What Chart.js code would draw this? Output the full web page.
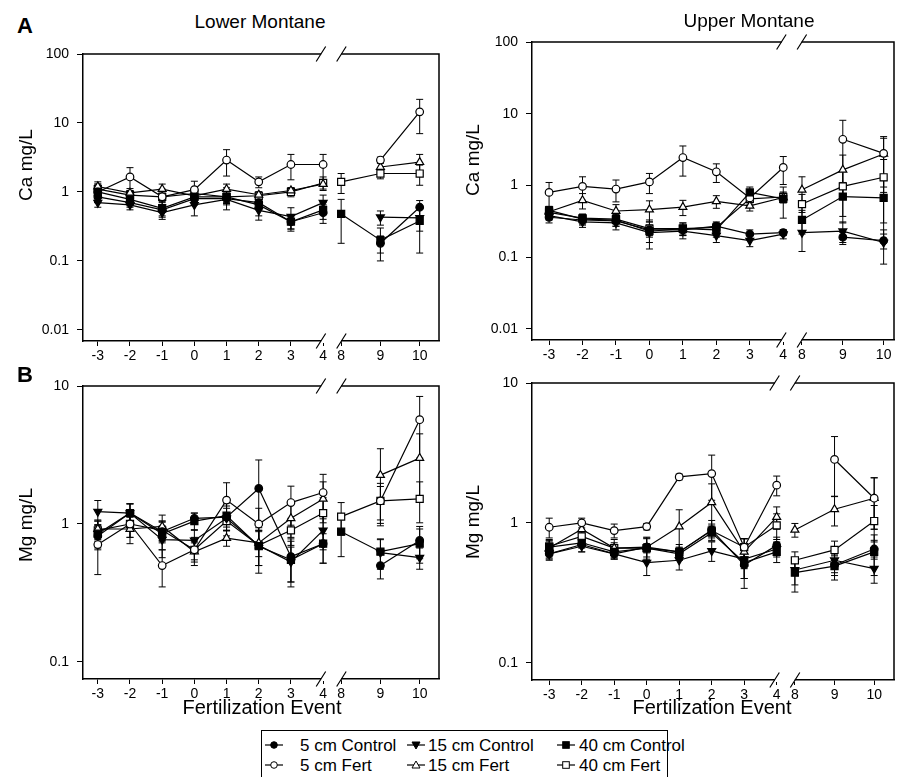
<!DOCTYPE html>
<html>
<head>
<meta charset="utf-8">
<script src="https://cdn.jsdelivr.net/npm/chart.js@4.4.0/dist/chart.umd.min.js"></script>
<style>
body { margin: 0; width: 897px; height: 777px; background: #fff; position: relative; overflow: hidden; font-family: "Liberation Sans", Arial, sans-serif; color: #000; }
canvas { position: absolute; }
.t { position: absolute; white-space: nowrap; line-height: 1; transform: translate(-50%, -50%); }
.rot { transform: translate(-50%, -50%) rotate(-90deg); }
.lg { position: absolute; white-space: nowrap; line-height: 1; font-size: 17px; transform: translateY(-50%); }
.sym { position: absolute; transform: translateY(-50%); line-height: 0; }
</style>
</head>
<body>
<div class="t" style="left:25px;top:26px;font-size:22px;font-weight:bold">A</div>
<div class="t" style="left:25px;top:375px;font-size:22px;font-weight:bold">B</div>
<div class="t" style="left:260px;top:21px;font-size:19px">Lower Montane</div>
<div class="t" style="left:749px;top:20px;font-size:19px">Upper Montane</div>
<div class="t rot" style="left:25px;top:165px;font-size:19px">Ca mg/L</div>
<div class="t rot" style="left:472px;top:160px;font-size:19px">Ca mg/L</div>
<div class="t rot" style="left:25px;top:525px;font-size:19px">Mg mg/L</div>
<div class="t rot" style="left:472px;top:522px;font-size:19px">Mg mg/L</div>
<div class="t" style="left:262px;top:707px;font-size:20px">Fertilization Event</div>
<div class="t" style="left:712px;top:707px;font-size:20px">Fertilization Event</div>
<div id="legend" style="position:absolute;left:261px;top:730px;width:407px;height:60px;border:1px solid #000;box-sizing:border-box"></div>

<script>
var events = [-3, -2, -1, 0, 1, 2, 3, 4, 8, 9, 10]
var seriesNames = ['5 cm Control', '15 cm Control', '40 cm Control', '5 cm Fert', '15 cm Fert', '40 cm Fert']

// means (mg/L), one row per series in seriesNames order; null = not sampled
var caLowerMeans = [
    [0.85, 0.70, 0.55, 0.80, 0.80, 0.70, 0.37, 0.50, null, 0.18, 0.60],
    [0.70, 0.65, 0.50, 0.65, 0.78, 0.54, 0.44, 0.70, null, 0.43, 0.42],
    [1.00, 0.78, 0.58, 0.85, 0.85, 0.65, 0.37, 0.55, 0.48, 0.20, 0.38],
    [1.00, 1.65, 0.85, 1.08, 2.90, 1.40, 2.50, 2.50, null, 2.90, 14.5],
    [1.20, 0.97, 1.10, 0.88, 1.10, 0.91, 1.05, 1.30, null, 2.30, 2.70],
    [1.10, 0.90, 0.85, 0.95, 0.85, 0.88, 1.00, 1.35, 1.40, 1.85, 1.85]
]
var caLowerErrs = [
    [0.15, 0.10, 0.10, 0.15, 0.15, 0.15, 0.08, 0.15, null, 0.05, 0.15],
    [0.10, 0.10, 0.10, 0.20, 0.10, 0.15, 0.15, 0.20, null, 0.10, 0.15],
    [0.20, 0.15, 0.15, 0.20, 0.30, 0.20, 0.10, 0.15, 0.30, 0.10, 0.25],
    [0.30, 0.60, 0.25, 0.35, 1.20, 0.25, 1.00, 1.00, null, 0.30, 7.50],
    [0.20, 0.15, 0.20, 0.15, 0.20, 0.10, 0.10, 0.20, null, 0.40, 0.80],
    [0.20, 0.15, 0.15, 0.15, 0.15, 0.10, 0.15, 0.30, 0.45, 0.30, 0.60]
]
var caUpperMeans = [
    [0.36, 0.33, 0.32, 0.24, 0.24, 0.27, 0.21, 0.22, null, 0.19, 0.17],
    [0.38, 0.31, 0.30, 0.22, 0.23, 0.20, 0.17, 0.21, 0.22, 0.23, 0.16],
    [0.45, 0.34, 0.33, 0.23, 0.25, 0.24, 0.80, 0.65, 0.33, 0.70, 0.67],
    [0.80, 0.97, 0.89, 1.12, 2.45, 1.55, 0.67, 1.78, null, 4.40, 2.80],
    [0.43, 0.62, 0.44, 0.46, 0.50, 0.60, 0.52, 0.68, 0.87, 1.65, 2.75],
    [0.42, 0.35, 0.34, 0.25, 0.25, 0.26, 0.65, 0.69, 0.55, 0.97, 1.30]
]
var caUpperErrs = [
    [0.06, 0.05, 0.05, 0.04, 0.03, 0.03, 0.03, 0.02, null, 0.03, 0.04],
    [0.05, 0.05, 0.06, 0.06, 0.05, 0.04, 0.03, 0.03, 0.10, 0.08, 0.08],
    [0.06, 0.05, 0.06, 0.10, 0.05, 0.05, 0.15, 0.30, 0.12, 0.40, 0.50],
    [0.30, 0.35, 0.30, 0.35, 1.10, 0.45, 0.15, 0.75, null, 3.70, 2.00],
    [0.08, 0.15, 0.10, 0.15, 0.12, 0.12, 0.08, 0.10, 0.45, 1.00, 1.80],
    [0.06, 0.05, 0.05, 0.06, 0.05, 0.05, 0.10, 0.12, 0.20, 0.60, 1.00]
]
var mgLowerMeans = [
    [0.82, 1.20, 0.88, 1.10, 1.12, 1.81, 0.58, 0.72, null, 0.50, 0.76],
    [1.23, 1.20, 0.77, 0.76, 1.10, 0.70, 0.53, 0.90, null, 0.62, 0.57],
    [0.85, 1.20, 0.85, 1.05, 1.15, 0.69, 0.55, 0.72, 0.88, 0.63, 0.72],
    [0.71, 1.00, 0.50, 0.65, 1.49, 1.00, 1.43, 1.69, null, 1.47, 5.70],
    [0.92, 0.92, 0.96, 0.63, 0.79, 0.73, 1.10, 1.52, null, 2.26, 3.00],
    [0.90, 1.00, 0.90, 0.65, 1.05, 0.70, 0.90, 1.20, 1.13, 1.47, 1.52]
]
var mgLowerErrs = [
    [0.15, 0.20, 0.15, 0.10, 0.30, 1.10, 0.20, 0.20, null, 0.10, 0.20],
    [0.25, 0.20, 0.20, 0.15, 0.20, 0.20, 0.15, 0.25, null, 0.15, 0.10],
    [0.20, 0.20, 0.20, 0.15, 0.20, 0.25, 0.20, 0.20, 0.30, 0.15, 0.20],
    [0.28, 0.20, 0.15, 0.15, 0.50, 0.30, 0.45, 0.60, null, 0.50, 2.70],
    [0.15, 0.20, 0.20, 0.10, 0.10, 0.15, 0.30, 0.50, null, 1.25, 1.50],
    [0.15, 0.20, 0.15, 0.10, 0.15, 0.20, 0.20, 0.35, 0.30, 0.40, 0.50]
]
var mgUpperMeans = [
    [0.60, 0.70, 0.60, 0.67, 0.62, 0.89, 0.50, 0.69, null, 0.50, 0.65],
    [0.60, 0.68, 0.60, 0.52, 0.54, 0.63, 0.55, 0.65, 0.46, 0.54, 0.47],
    [0.67, 0.72, 0.62, 0.66, 0.60, 0.85, 0.52, 0.62, 0.44, 0.49, 0.62],
    [0.93, 1.00, 0.88, 0.94, 2.13, 2.25, 0.67, 1.86, null, 2.84, 1.50],
    [0.66, 0.90, 0.66, 0.67, 0.94, 1.40, 0.62, 1.10, 0.89, 1.25, 1.50],
    [0.68, 0.80, 0.66, 0.66, 0.62, 0.88, 0.67, 0.96, 0.54, 0.64, 1.03]
]
var mgUpperErrs = [
    [0.06, 0.08, 0.05, 0.10, 0.08, 0.15, 0.10, 0.10, null, 0.08, 0.10],
    [0.05, 0.06, 0.05, 0.10, 0.08, 0.10, 0.15, 0.08, 0.10, 0.10, 0.10],
    [0.08, 0.06, 0.05, 0.12, 0.06, 0.10, 0.18, 0.10, 0.12, 0.10, 0.20],
    [0.15, 0.08, 0.10, 0.05, 0.10, 0.80, 0.10, 0.30, null, 1.30, 0.60],
    [0.10, 0.10, 0.10, 0.12, 0.30, 0.50, 0.15, 0.20, 0.10, 0.30, 0.60],
    [0.06, 0.06, 0.06, 0.05, 0.05, 0.10, 0.10, 0.20, 0.08, 0.10, 0.30]
]

// x axis has a break between event 4 and event 8
var breakGap = 0.56
var postStretch = 1.22
var breakPos = 4.25
function xPos(e) {
    return e <= 4 ? e : 4 + breakGap + (e - 8) * postStretch
}

var markers = [
    { style: 'circle', fill: '#000', rot: 0, r: 3.8 },
    { style: 'triangle', fill: '#000', rot: 180, r: 4.6 },
    { style: 'rect', fill: '#000', rot: 0, r: 5 },
    { style: 'circle', fill: '#fff', rot: 0, r: 3.8 },
    { style: 'triangle', fill: '#fff', rot: 0, r: 4.6 },
    { style: 'rect', fill: '#fff', rot: 0, r: 5 }
]

var panels = [
    { means: caLowerMeans, errs: caLowerErrs, l: 83, t: 54, r: 439, b: 341, yMin: 0.0069, yMax: 100, yTicks: [0.01, 0.1, 1, 10, 100], xMin: -3.46, xMax: 7.6 },
    { means: caUpperMeans, errs: caUpperErrs, l: 532, t: 42, r: 894, b: 340, yMin: 0.007, yMax: 100, yTicks: [0.01, 0.1, 1, 10, 100], xMin: -3.51, xMax: 7.31 },
    { means: mgLowerMeans, errs: mgLowerErrs, l: 83, t: 386, r: 439, b: 679, yMin: 0.0753, yMax: 10, yTicks: [0.1, 1, 10], xMin: -3.46, xMax: 7.6 },
    { means: mgUpperMeans, errs: mgUpperErrs, l: 532, t: 383, r: 894, b: 680, yMin: 0.0752, yMax: 10, yTicks: [0.1, 1, 10], xMin: -3.53, xMax: 7.61 }
]

// vertical error bars with caps, drawn under the markers
var errorBars = {
    id: 'errorBars',
    beforeDatasetsDraw: function (chart) {
        var ctx = chart.ctx
        var ys = chart.scales.y
        ctx.save()
        ctx.strokeStyle = '#000'
        ctx.lineWidth = 1
        chart.data.datasets.forEach(function (ds, i) {
            var meta = chart.getDatasetMeta(i)
            meta.data.forEach(function (pt, k) {
                var d = ds.data[k]
                var e = ds.errs[k]
                if (d.y == null || e == null) return
                var top = ys.getPixelForValue(d.y + e)
                var bot = ys.getPixelForValue(Math.max(d.y - e, ys.min))
                ctx.beginPath()
                ctx.moveTo(pt.x, top)
                ctx.lineTo(pt.x, bot)
                ctx.moveTo(pt.x - 3.5, top)
                ctx.lineTo(pt.x + 3.5, top)
                ctx.moveTo(pt.x - 3.5, bot)
                ctx.lineTo(pt.x + 3.5, bot)
                ctx.stroke()
            })
        })
        ctx.restore()
    }
}

// top/right frame lines and the // axis break marks
var frame = {
    id: 'frame',
    afterDraw: function (chart) {
        var a = chart.chartArea
        var ctx = chart.ctx
        var bx = chart.scales.x.getPixelForValue(breakPos)
        ctx.save()
        ctx.strokeStyle = '#000'
        ctx.lineWidth = 1.5
        ctx.beginPath()
        ctx.moveTo(a.left, a.top)
        ctx.lineTo(a.right, a.top)
        ctx.lineTo(a.right, a.bottom)
        ctx.stroke()
        var edges = [a.top, a.bottom]
        edges.forEach(function (y) {
            ctx.fillStyle = '#fff'
            ctx.fillRect(bx - 10, y - 2, 20, 4)
            ctx.beginPath()
            ctx.moveTo(bx - 15, y + 7.5)
            ctx.lineTo(bx - 5.5, y - 7.5)
            ctx.moveTo(bx + 5.5, y + 7.5)
            ctx.lineTo(bx + 15, y - 7.5)
            ctx.lineWidth = 1.2
            ctx.stroke()
        })
        ctx.restore()
    }
}

var font = { family: '"Liberation Sans", Arial, sans-serif', size: 14 }
var padL = 70, padT = 14, padR = 8, padB = 30

panels.forEach(function (p) {
    var cv = document.createElement('canvas')
    cv.width = p.r - p.l + padL + padR
    cv.height = p.b - p.t + padT + padB
    cv.style.left = (p.l - padL) + 'px'
    cv.style.top = (p.t - padT) + 'px'
    document.body.insertBefore(cv, document.body.firstChild)

    var datasets = seriesNames.map(function (name, i) {
        var pts = []
        var errs = []
        events.forEach(function (e, k) {
            if (e === 8) {
                pts.push({ x: breakPos, y: null })
                errs.push(null)
            }
            pts.push({ x: xPos(e), y: p.means[i][k] })
            errs.push(p.errs[i][k])
        })
        var m = markers[i]
        return {
            label: name,
            data: pts,
            errs: errs,
            borderColor: '#000',
            borderWidth: 1.2,
            backgroundColor: m.fill,
            pointStyle: m.style,
            pointRotation: m.rot,
            pointRadius: m.r,
            pointBorderWidth: 1.2,
            pointBackgroundColor: m.fill,
            pointBorderColor: '#000',
            spanGaps: false,
            tension: 0
        }
    })

    new Chart(cv.getContext('2d'), {
        type: 'line',
        data: { datasets: datasets },
        options: {
            responsive: false,
            animation: false,
            layout: { padding: { top: padT, right: padR, left: 0, bottom: 0 } },
            plugins: { legend: { display: false }, tooltip: { enabled: false } },
            scales: {
                x: {
                    type: 'linear',
                    min: p.xMin,
                    max: p.xMax,
                    afterBuildTicks: function (s) {
                        s.ticks = events.map(function (e) { return { value: xPos(e) } })
                    },
                    afterFit: function (s) {
                        s.height = padB
                        s.paddingLeft = 0
                        s.paddingRight = 0
                    },
                    ticks: {
                        autoSkip: false,
                        maxRotation: 0,
                        color: '#000',
                        font: font,
                        padding: 2,
                        callback: function (v, i) { return String(events[i]) }
                    },
                    grid: { drawOnChartArea: false, drawTicks: true, tickLength: 5, color: '#000', tickWidth: 1 },
                    border: { color: '#000', width: 1.5 }
                },
                y: {
                    type: 'logarithmic',
                    min: p.yMin,
                    max: p.yMax,
                    afterBuildTicks: function (s) {
                        s.ticks = p.yTicks.map(function (v) { return { value: v } })
                    },
                    afterFit: function (s) {
                        s.width = padL
                        s.paddingTop = 0
                        s.paddingBottom = 0
                    },
                    ticks: {
                        color: '#000',
                        font: font,
                        padding: 8,
                        callback: function (v) { return String(v) }
                    },
                    grid: { drawOnChartArea: false, drawTicks: true, tickLength: 6, color: '#000', tickWidth: 1 },
                    border: { color: '#000', width: 1.5 }
                }
            }
        },
        plugins: [errorBars, frame]
    })
})

// legend: small line+marker symbols with text, in a 3x2 grid
function symbolSvg(m) {
    var c = 9, y = 8, s = ''
    if (m.style === 'circle') {
        s = '<circle cx="' + c + '" cy="' + y + '" r="3.3" fill="' + m.fill + '" stroke="#000" stroke-width="1"/>'
    } else if (m.style === 'rect') {
        s = '<rect x="' + (c - 3.3) + '" y="' + (y - 3.3) + '" width="6.6" height="6.6" fill="' + m.fill + '" stroke="#000" stroke-width="1"/>'
    } else if (m.rot === 180) {
        s = '<polygon points="' + (c - 4) + ',' + (y - 3) + ' ' + (c + 4) + ',' + (y - 3) + ' ' + c + ',' + (y + 4) + '" fill="' + m.fill + '" stroke="#000" stroke-width="1"/>'
    } else {
        s = '<polygon points="' + (c - 4) + ',' + (y + 3) + ' ' + (c + 4) + ',' + (y + 3) + ' ' + c + ',' + (y - 4) + '" fill="' + m.fill + '" stroke="#000" stroke-width="1"/>'
    }
    return '<svg width="18" height="16"><line x1="0" y1="8" x2="18" y2="8" stroke="#000" stroke-width="1.2"/>' + s + '</svg>'
}
var legendCols = [{ sym: 3, text: 38 }, { sym: 145, text: 166 }, { sym: 295, text: 317 }]
var legendRows = [14, 34]
var lg = document.getElementById('legend')
seriesNames.forEach(function (name, i) {
    var col = legendCols[i % 3]
    var row = legendRows[Math.floor(i / 3)]
    var sym = document.createElement('div')
    sym.className = 'sym'
    sym.style.left = col.sym + 'px'
    sym.style.top = row + 'px'
    sym.innerHTML = symbolSvg(markers[i])
    lg.appendChild(sym)
    var tx = document.createElement('div')
    tx.className = 'lg'
    tx.style.left = col.text + 'px'
    tx.style.top = row + 'px'
    tx.textContent = name
    lg.appendChild(tx)
})
</script>
</body>
</html>
